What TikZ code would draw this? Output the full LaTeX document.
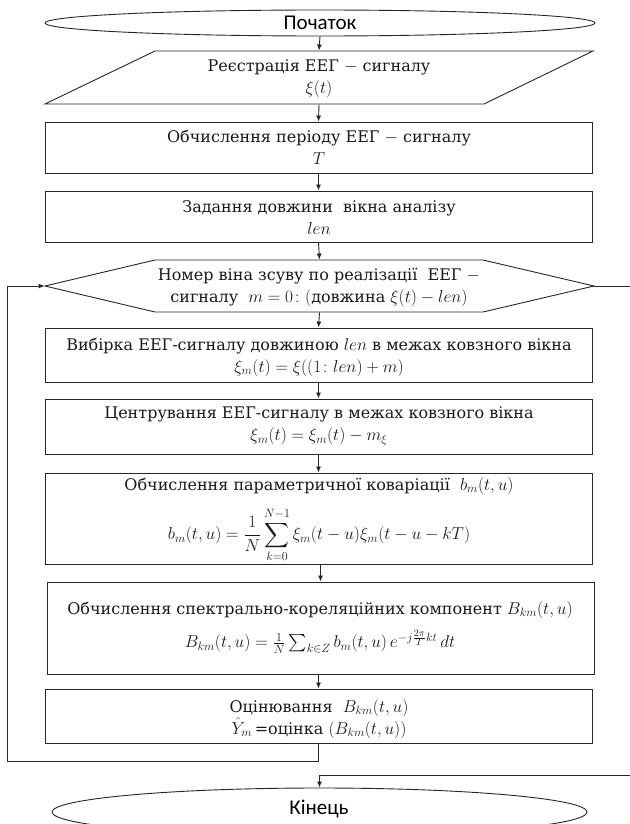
\documentclass[tikz,border=0pt]{standalone}
\usepackage{amsmath}
\usepackage{fontspec}
\setmainfont{DejaVu Serif}
\newfontfamily\sansf{Carlito}
\DeclareMathSizes{16}{18.5}{13}{10}
\usetikzlibrary{shapes.geometric,arrows.meta}
\begin{document}
\begin{tikzpicture}[x=1pt,y=-1pt,
  line width=0.9pt, draw=black!85,
  arr/.style={-{Latex[length=6pt,width=5pt]}},
  boxshape/.style={draw, rectangle, minimum width=547pt, inner sep=0pt},
  txt/.style={align=center, inner sep=0pt, text=black!90, font=\fontsize{16}{22}\selectfont},
  term/.style={draw, ellipse, inner sep=0pt, font=\sansf\fontsize{21}{24}\selectfont}]
\useasboundingbox (0,0) rectangle (629,824);
% terminals
\node[term, minimum width=550pt, minimum height=26pt] (start) at (320,23) {Початок};
\node[term, minimum width=535pt, minimum height=48pt] (stop) at (319.5,812) {};
\node[font=\sansf\fontsize{21}{24}\selectfont, inner sep=0pt] (tstop) at (319,809) {Кінець};
% input parallelogram
\node[minimum width=438pt, minimum height=53pt, inner sep=0pt] (par) at (319,77.5) {};
\draw (155,51) -- (593,51) -- (484,104) -- (45,104) -- cycle;
\node[txt] (tpar) at (319,79) {Реєстрація ЕЕГ $-$ сигналу\\$\xi(t)$};
% box 2
\node[boxshape, minimum height=51pt] (b2) at (318.5,147.5) {};
\node[txt] (t2) at (319,147.5) {Обчислення періоду ЕЕГ $-$ сигналу\\$T$};
% box 3
\node[boxshape, minimum height=51pt] (b3) at (318.5,216.5) {};
\node[txt] (t3) at (319,217.5) {Задання довжини\ \ вікна аналізу\\$len$};
% hexagon
\node[minimum width=549pt, minimum height=52pt, inner sep=0pt] (hex) at (319.5,286) {};
\draw (45,286) -- (155,260) -- (483,260) -- (594,286) -- (483,312) -- (155,312) -- cycle;
\node[txt] (thex) at (319,288) {Номер віна зсуву по реалізації\ \ ЕЕГ $-$\\сигналу\ \ $m=0\colon($довжина $\xi(t)-len)$};
% box 5
\node[boxshape, minimum height=54pt] (b5) at (318.5,355) {};
\node[txt] (t5) at (319,357) {Вибірка ЕЕГ-сигналу довжиною $len$ в межах ковзного вікна\\$\xi_m(t)=\xi((1\colon len)+m)$};
% box 6
\node[boxshape, minimum height=55pt] (b6) at (318.5,426.5) {};
\node[txt] (t6) at (319,426) {Центрування ЕЕГ-сигналу в межах ковзного вікна\\$\xi_m(t)=\xi_m(t)-m_{\xi}$};
% box 7
\node[boxshape, minimum height=91pt] (b7) at (318.5,518.5) {};
\node[txt] (t7a) at (319,486) {Обчислення параметричної коваріації\ \ $b_m(t,u)$};
\node[txt] (t7b) at (319,535) {$\displaystyle b_m(t,u)=\frac{1}{N}\sum_{k=0}^{N-1}\xi_m(t-u)\xi_m(t-u-kT)$};
% box 8
\node[boxshape, minimum height=92pt] (b8) at (320.5,628) {};
\node[txt] (t8a) at (320,610) {Обчислення спектрально-кореляційних компонент $B_{km}(t,u)$};
\node[txt] (t8b) at (320,642) {$B_{km}(t,u)=\frac{1}{N}\sum_{k\in Z} b_m(t,u)\,e^{-j\frac{2\pi}{T}kt}\,dt$};
% box 9
\node[boxshape, minimum height=54pt] (b9) at (318.5,716) {};
\node[txt] (t9) at (319,719) {Оцінювання\ \ $B_{km}(t,u)$\\$\hat{Y}_m$\,=оцінка $(B_{km}(t,u))$};
% connectors
\draw[arr] (start.south) -- (par.north);
\draw[arr] (par.south) -- (b2.north);
\draw[arr] (b2.south) -- (b3.north);
\draw[arr] (b3.south) -- (hex.north);
\draw[arr] (hex.south) -- (b5.north);
\draw[arr] (b5.south) -- (b6.north);
\draw[arr] (b6.south) -- (b7.north);
\draw[arr] (b7.south -| b8.north) -- (b8.north);
\draw[arr] (b8.south -| b9.north) -- (b9.north);
\coordinate (lc) at (7,761);
\draw[arr] (b9.south) |- (lc) |- (hex.west);
\coordinate (rc) at (650,775);
\draw[arr] (hex.east) -| (rc) -| (stop.north);
\end{tikzpicture}
\end{document}
